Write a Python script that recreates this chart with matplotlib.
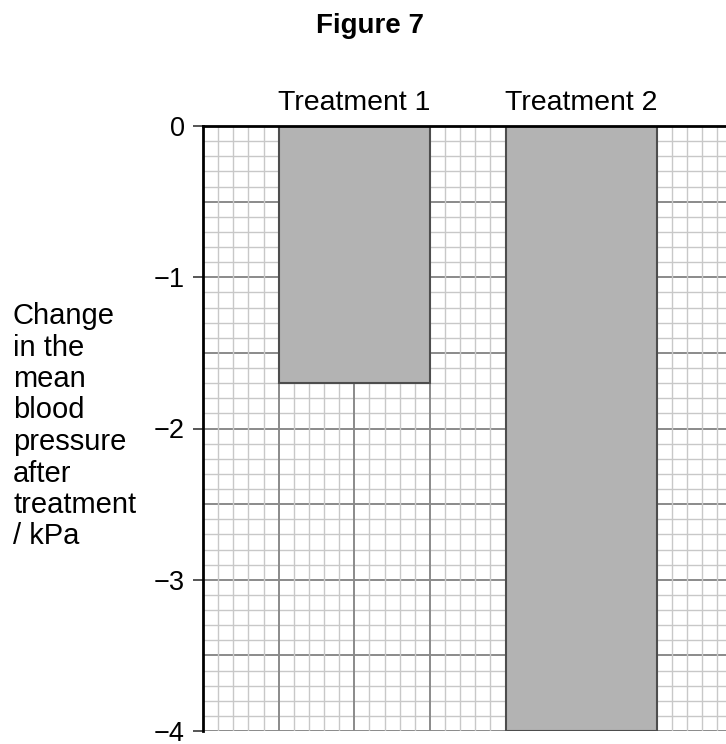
import matplotlib
matplotlib.use("Agg")
import matplotlib.pyplot as plt
import numpy as np

plt.rcParams['font.family'] = ['Liberation Sans', 'DejaVu Sans']

categories = ["Treatment 1", "Treatment 2"]
values = [-1.7, -4.0]
bar_centers = [10, 25]
y_ticks = [0, -1, -2, -3, -4]
y_tick_labels = ["0", "\u22121", "\u22122", "\u22123", "\u22124"]
ylabel_lines = ["Change", "in the", "mean", "blood", "pressure", "after",
                "treatment", "/ kPa"]

W, H = 726, 744
fig = plt.figure(figsize=(W / 100, H / 100), dpi=100)
left, right, top, bottom = 203, 726, 126, 731
ax = fig.add_axes([left / W, 1 - bottom / H, (right - left) / W, (bottom - top) / H])

xmax = (right - left) / 15.125
ax.set_xlim(0, xmax)
ax.set_ylim(-4, 0)

minor_c = '#c8c8c8'
major_c = '#8a8a8a'
for k in range(0, 41):
    y = -k * 0.1
    ax.axhline(y, color=major_c if k % 5 == 0 else minor_c,
               lw=1.4 if k % 5 == 0 else 1.0, zorder=1)
for k in range(0, int(xmax) + 1):
    ax.axvline(k, color=major_c if k % 5 == 0 else minor_c,
               lw=1.4 if k % 5 == 0 else 1.0, zorder=1)

ax.bar(bar_centers, values, width=10, bottom=0, color='#b3b3b3',
       edgecolor='#4d4d4d', linewidth=1.5, zorder=3, align='center')

for s in ['right', 'bottom']:
    ax.spines[s].set_visible(False)
for s in ['left', 'top']:
    ax.spines[s].set_linewidth(2.0)
    ax.spines[s].set_color('black')
    ax.spines[s].set_zorder(5)

ax.set_yticks(y_ticks)
ax.set_yticklabels(y_tick_labels, fontsize=19.5)
ax.tick_params(axis='y', length=7, width=1.4, color='#555555', pad=6)

ax.xaxis.tick_top()
ax.set_xticks(bar_centers)
ax.set_xticklabels(categories, fontsize=20.5)
ax.tick_params(axis='x', length=0, pad=7)

fig.text(370 / W, 1 - 26 / H, "Figure 7", ha='center', va='center',
         fontsize=20, fontweight='bold')

for i, line in enumerate(ylabel_lines):
    fig.text(13 / W, 1 - (324 + 31.5 * i) / H, line, ha='left', va='baseline',
             fontsize=21)

fig.savefig("out.png", dpi=100)
